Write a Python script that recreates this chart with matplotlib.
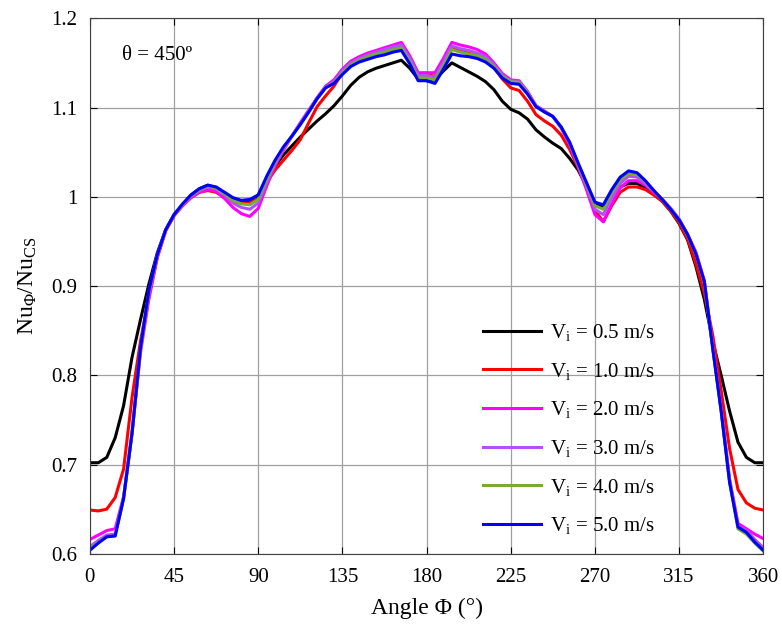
import numpy as np
import matplotlib
matplotlib.use("Agg")
import matplotlib.pyplot as plt

plt.rcParams['font.family'] = ['Liberation Serif', 'DejaVu Serif']
plt.rcParams['mathtext.fontset'] = 'custom'
plt.rcParams['mathtext.rm'] = 'Liberation Serif'
plt.rcParams['mathtext.it'] = 'Liberation Serif:italic'

# angle samples, every 4.5 degrees
angle = np.arange(0, 360.01, 4.5)

v05 = [0.702, 0.702, 0.708, 0.730, 0.766, 0.820, 0.862, 0.902, 0.937, 0.963,
       0.980, 0.991, 1.002, 1.009, 1.013, 1.010, 1.004, 0.997, 0.995, 0.996,
       1.002, 1.020, 1.034, 1.047, 1.057, 1.067, 1.076, 1.085, 1.093, 1.102,
       1.113, 1.125, 1.134, 1.140, 1.144, 1.147, 1.150, 1.153, 1.144, 1.132,
       1.130, 1.131, 1.141, 1.150, 1.145, 1.140, 1.135, 1.129, 1.120, 1.107,
       1.098, 1.094, 1.087, 1.075, 1.067, 1.060, 1.054, 1.043, 1.030, 1.012,
       0.993, 0.989, 1.002, 1.011, 1.015, 1.015, 1.010, 1.003, 0.995, 0.984,
       0.970, 0.952, 0.922, 0.885, 0.838, 0.800, 0.760, 0.725, 0.708, 0.702,
       0.702]
v10 = [0.649, 0.648, 0.650, 0.663, 0.695, 0.775, 0.838, 0.888, 0.932, 0.962,
       0.979, 0.990, 0.999, 1.005, 1.007, 1.005, 0.999, 0.994, 0.993, 0.993,
       0.998, 1.016, 1.030, 1.041, 1.052, 1.064, 1.083, 1.101, 1.113, 1.124,
       1.139, 1.150, 1.155, 1.158, 1.161, 1.164, 1.167, 1.169, 1.155, 1.137,
       1.137, 1.135, 1.150, 1.167, 1.163, 1.161, 1.158, 1.154, 1.145, 1.132,
       1.122, 1.119, 1.107, 1.092, 1.085, 1.079, 1.069, 1.053, 1.033, 1.010,
       0.985, 0.972, 0.990, 1.005, 1.011, 1.011, 1.008, 1.002, 0.995, 0.984,
       0.971, 0.953, 0.925, 0.892, 0.845, 0.783, 0.718, 0.672, 0.657, 0.651,
       0.649]
v20 = [0.616, 0.621, 0.626, 0.628, 0.664, 0.735, 0.825, 0.885, 0.932, 0.962,
       0.979, 0.990, 0.999, 1.005, 1.008, 1.006, 0.998, 0.988, 0.981, 0.978,
       0.987, 1.012, 1.035, 1.052, 1.068, 1.083, 1.097, 1.111, 1.124, 1.131,
       1.143, 1.152, 1.157, 1.161, 1.164, 1.167, 1.170, 1.173, 1.158, 1.139,
       1.139, 1.139, 1.155, 1.173, 1.170, 1.168, 1.165, 1.160, 1.150, 1.138,
       1.131, 1.130, 1.118, 1.102, 1.096, 1.090, 1.077, 1.058, 1.034, 1.008,
       0.980, 0.972, 0.992, 1.010, 1.018, 1.018, 1.013, 1.005, 0.997, 0.987,
       0.975, 0.958, 0.938, 0.906, 0.832, 0.762, 0.684, 0.634, 0.628, 0.622,
       0.617]
v30 = [0.608, 0.615, 0.621, 0.622, 0.663, 0.735, 0.828, 0.892, 0.934, 0.963,
       0.980, 0.991, 1.001, 1.007, 1.011, 1.009, 1.002, 0.993, 0.988, 0.986,
       0.993, 1.016, 1.037, 1.054, 1.068, 1.082, 1.096, 1.111, 1.123, 1.129,
       1.141, 1.150, 1.155, 1.159, 1.162, 1.165, 1.168, 1.170, 1.155, 1.136,
       1.136, 1.134, 1.151, 1.169, 1.166, 1.164, 1.161, 1.157, 1.148, 1.136,
       1.130, 1.129, 1.117, 1.102, 1.096, 1.090, 1.078, 1.060, 1.036, 1.012,
       0.986, 0.980, 0.999, 1.015, 1.023, 1.022, 1.015, 1.006, 0.997, 0.987,
       0.975, 0.958, 0.937, 0.905, 0.831, 0.761, 0.682, 0.631, 0.626, 0.616,
       0.607]
v40 = [0.605, 0.613, 0.619, 0.620, 0.662, 0.735, 0.829, 0.893, 0.935, 0.963,
       0.980, 0.991, 1.001, 1.008, 1.012, 1.010, 1.003, 0.996, 0.992, 0.991,
       0.997, 1.019, 1.039, 1.055, 1.068, 1.081, 1.095, 1.110, 1.122, 1.128,
       1.139, 1.148, 1.153, 1.157, 1.160, 1.162, 1.165, 1.167, 1.152, 1.133,
       1.133, 1.131, 1.147, 1.165, 1.162, 1.160, 1.158, 1.154, 1.146, 1.135,
       1.129, 1.128, 1.116, 1.101, 1.095, 1.090, 1.078, 1.061, 1.037, 1.014,
       0.990, 0.986, 1.004, 1.019, 1.026, 1.025, 1.017, 1.007, 0.997, 0.986,
       0.974, 0.957, 0.936, 0.904, 0.830, 0.760, 0.681, 0.628, 0.622, 0.612,
       0.603]
v50 = [0.604, 0.612, 0.619, 0.620, 0.662, 0.735, 0.830, 0.895, 0.935, 0.963,
       0.980, 0.992, 1.002, 1.009, 1.013, 1.011, 1.005, 0.999, 0.996, 0.997,
       1.002, 1.023, 1.041, 1.056, 1.068, 1.081, 1.095, 1.110, 1.122, 1.127,
       1.137, 1.146, 1.151, 1.154, 1.157, 1.159, 1.162, 1.164, 1.149, 1.130,
       1.130, 1.127, 1.143, 1.160, 1.158, 1.157, 1.155, 1.151, 1.144, 1.133,
       1.127, 1.126, 1.115, 1.101, 1.095, 1.090, 1.078, 1.061, 1.038, 1.016,
       0.994, 0.991, 1.008, 1.022, 1.029, 1.027, 1.018, 1.007, 0.997, 0.986,
       0.974, 0.958, 0.936, 0.905, 0.830, 0.760, 0.680, 0.630, 0.624, 0.613,
       0.604]

series = [v05, v10, v20, v30, v40, v50]
labels = ['0.5', '1.0', '2.0', '3.0', '4.0', '5.0']
colors = ['black', '#ff0000', '#ff00ff', '#b050ff', '#77ac30', '#0000ff']

fig, ax = plt.subplots(figsize=(7.82, 6.3), dpi=100)
fig.subplots_adjust(left=0.115, right=0.976, top=0.971, bottom=0.121)

for y, lab, c in zip(series, labels, colors):
    ax.plot(angle, y, color=c, lw=2.2, label='V$_\\mathregular{i}$ = ' + lab + ' m/s')

ax.set_xlim(0, 360)
ax.set_ylim(0.6, 1.2)
ax.set_xticks(np.arange(0, 361, 45))
ax.set_yticks([0.6, 0.7, 0.8, 0.9, 1.0, 1.1, 1.2])
ax.set_yticklabels(['0.6', '0.7', '0.8', '0.9', '1', '1.1', '1.2'])
ax.grid(True, color='#a0a0a0', lw=0.9)
ax.tick_params(direction='in', top=True, right=True, labelsize=15, length=5)
ax.tick_params(axis='x', pad=10)
ax.tick_params(axis='y', pad=9)
for s in ax.spines.values():
    s.set_color('#404040')

ax.set_xlabel('Angle Φ (°)', fontsize=17, labelpad=8)
ax.set_ylabel('$\\mathregular{Nu_{\\Phi}/Nu_{CS}}$', fontsize=17, labelpad=9)
ax.text(17, 1.153, 'θ = 450º', fontsize=15)

ax.legend(loc='upper left', bbox_to_anchor=(0.556, 0.468), frameon=False,
          fontsize=15, handlelength=2.8, labelspacing=0.85, handletextpad=0.4)

fig.savefig('out.png', dpi=100)
